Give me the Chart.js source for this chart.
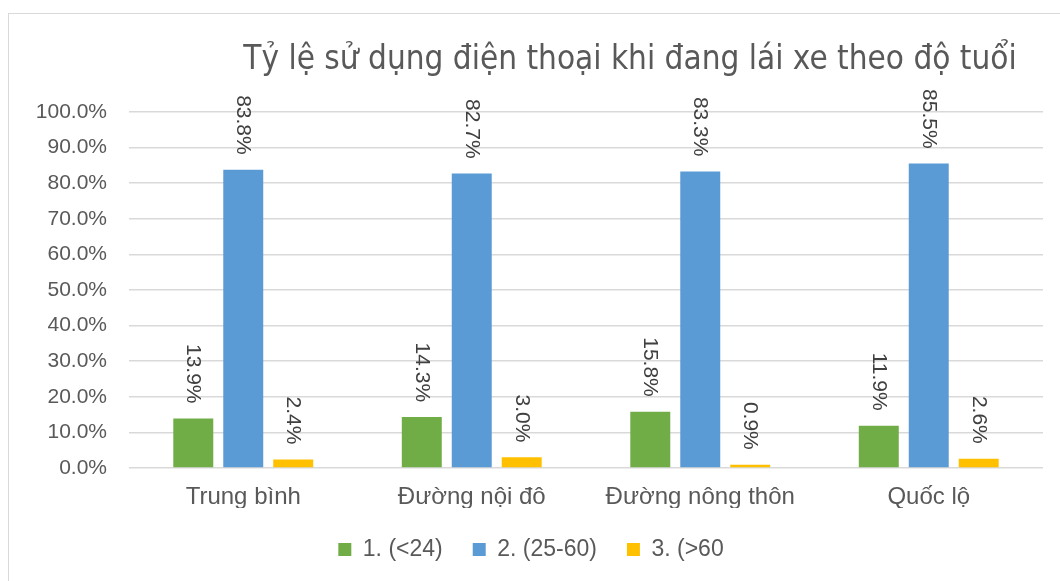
<!DOCTYPE html>
<html>
<head>
<meta charset="utf-8">
<script src="https://cdn.jsdelivr.net/npm/chart.js@4"></script>
<style>
  html, body { margin: 0; padding: 0; background: #fff; }
  #frame {
    position: absolute; left: 8px; top: 13px;
    width: 1052px; height: 568px;
    border-left: 1px solid #d9d9d9; border-top: 1px solid #d9d9d9;
  }
  #wrap { position: absolute; left: 0; top: 0; width: 1051px; height: 567px; }
</style>
</head>
<body>
<div id="frame"><div id="wrap"><canvas id="chart"></canvas></div></div>
<script>
// Chart data
const chartTitle = 'Tỷ lệ sử dụng điện thoại khi đang lái xe theo độ tuổi';
const categories = ['Trung bình', 'Đường nội đô', 'Đường nông thôn', 'Quốc lộ'];
const seriesNames = ['1. (<24)', '2. (25-60)', '3. (>60'];
const under24 = [13.9, 14.3, 15.8, 11.9];
const age25to60 = [83.8, 82.7, 83.3, 85.5];
const over60 = [2.4, 3.0, 0.9, 2.6];
const seriesColors = ['#70AD47', '#5B9BD5', '#FFC000'];

const FONT = '"Liberation Sans", Arial, sans-serif';

/**
 * Draw the title a little right of center, as in the Excel original
 */
const titlePlugin = {
    id: 'excelTitle',
    afterDraw(chart) {
        const ctx = chart.ctx;
        ctx.save();
        ctx.font = '33px "Liberation Sans Narrow", "DejaVu Sans Condensed", sans-serif';
        ctx.fillStyle = '#595959';
        ctx.textAlign = 'center';
        ctx.textBaseline = 'alphabetic';
        ctx.fillText(chartTitle, 621, 55);
        ctx.restore();
    }
};

/**
 * Vertical value labels above each bar
 */
const valueLabels = {
    id: 'valueLabels',
    afterDatasetsDraw(chart) {
        const ctx = chart.ctx;
        ctx.save();
        ctx.font = '21px ' + FONT;
        ctx.fillStyle = '#404040';
        chart.data.datasets.forEach((ds, i) => {
            const meta = chart.getDatasetMeta(i);
            meta.data.forEach((bar, j) => {
                ctx.save();
                ctx.translate(bar.x, bar.y - 15);
                ctx.rotate(Math.PI / 2);
                ctx.textAlign = 'right';
                ctx.textBaseline = 'middle';
                ctx.fillText(ds.data[j].toFixed(1) + '%', 0, 0);
                ctx.restore();
            });
        });
        ctx.restore();
    }
};

const seriesValues = [under24, age25to60, over60];

new Chart(document.getElementById('chart'), {
    type: 'bar',
    data: {
        labels: categories,
        datasets: seriesNames.map((name, i) => ({
            label: name,
            data: seriesValues[i],
            backgroundColor: seriesColors[i],
            borderWidth: 0,
            barPercentage: 0.8,
            categoryPercentage: 0.656
        }))
    },
    options: {
        responsive: true,
        maintainAspectRatio: false,
        animation: false,
        layout: {
            padding: { left: 10, right: 17, top: 98, bottom: 10 }
        },
        plugins: {
            title: { display: false },
            tooltip: { enabled: false },
            legend: {
                position: 'bottom',
                labels: {
                    boxWidth: 13,
                    boxHeight: 13,
                    padding: 30,
                    color: '#595959',
                    font: { family: FONT, size: 23 }
                }
            }
        },
        scales: {
            x: {
                grid: { display: false, drawTicks: false },
                border: { display: false },
                ticks: {
                    color: '#595959',
                    padding: 15,
                    font: { family: FONT, size: 24 }
                },
                afterFit(scale) { scale.height = 40; }
            },
            y: {
                min: 0,
                max: 100,
                grid: { color: '#d9d9d9', lineWidth: 1.5, drawTicks: false },
                border: { display: false },
                ticks: {
                    stepSize: 10,
                    color: '#595959',
                    padding: 22,
                    font: { family: FONT, size: 21 },
                    callback: v => v.toFixed(1) + '%'
                },
                afterFit(scale) { scale.width = 110; }
            }
        }
    },
    plugins: [titlePlugin, valueLabels]
});
</script>
</body>
</html>
